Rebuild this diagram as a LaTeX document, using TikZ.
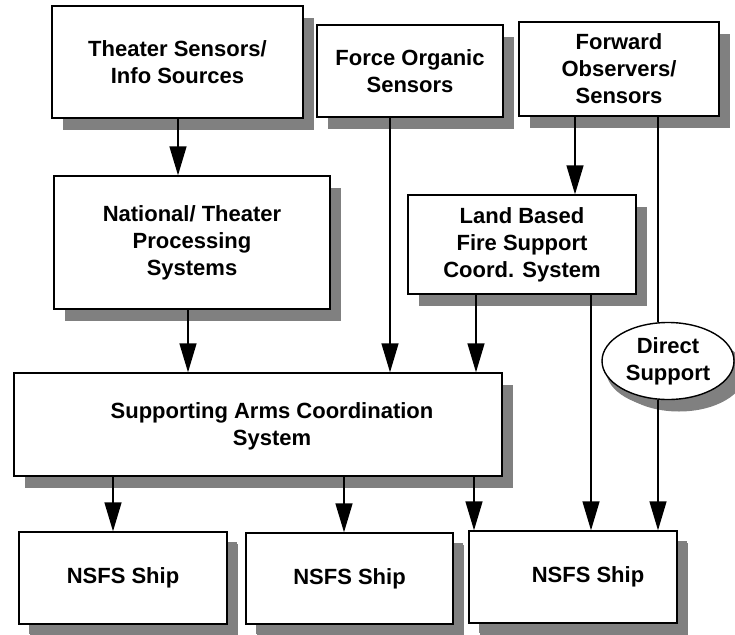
\documentclass[tikz,border=0pt]{standalone}
\usepackage{fontspec}
\setmainfont{Liberation Sans}
\usetikzlibrary{arrows.meta,shadows,shapes.geometric}
\begin{document}
\begin{tikzpicture}[x=1pt,y=-1pt,
  txt/.style={align=center, font=\bfseries\fontsize{22}{27}\selectfont},
  box/.style={txt, draw=black, line width=1.4pt, fill=white, inner sep=0pt,
    drop shadow={shadow xshift=11pt, shadow yshift=-12pt, fill=black!50, opacity=1}},
  shipbox/.style={box, minimum width=208pt, minimum height=92pt,
    drop shadow={shadow xshift=10pt, shadow yshift=-10pt, fill=black!50, opacity=1}},
  arr/.style={line width=1.4pt, -{Triangle[length=29pt,width=17pt]}},
  ln/.style={line width=1.4pt}]
\useasboundingbox (0,0) rectangle (735,634);

\node[box, minimum width=251pt, minimum height=112pt] (ts) at (177.5,62) {Theater Sensors/\\Info Sources};
\node[box, minimum width=186pt, minimum height=92pt] (fo) at (410,71) {Force Organic\\Sensors};
\node[box, minimum width=200pt, minimum height=94pt] (fw) at (619,69) {Forward\\Observers/\\Sensors};
\node[box, minimum width=276pt, minimum height=133pt] (nt) at (192,242.5) {National/ Theater\\Processing\\Systems};
\node[box, minimum width=228pt, minimum height=99pt] (lb) at (522,244.5) {Land Based\\Fire Support\\Coord. System};
\node[box, ellipse, minimum width=132pt, minimum height=77pt,
  drop shadow={shadow xshift=4pt, shadow yshift=-9pt, fill=black!50, opacity=1}] (ds) at (668,361) {Direct\\Support};
\node[box, minimum width=488pt, minimum height=103pt] (sa) at (258,424.5) {};
\node[txt] (satext) at (272,426) {Supporting Arms Coordination\\System};
\node[shipbox] (s1) at (123,578) {NSFS Ship};
\node[shipbox, minimum width=207pt, minimum height=91pt] (s2) at (349.5,578.5) {NSFS Ship};
\node[shipbox] (s3) at (573,577) {};
\node[txt] (s3text) at (588,577) {NSFS Ship};

\draw[arr] (178,0 |- ts.south) -- (178,0 |- nt.north);
\draw[arr] (188,0 |- nt.south) -- (188,0 |- sa.north);
\draw[arr] (390,0 |- fo.south) -- (390,0 |- sa.north);
\draw[arr] (575,0 |- fw.south) -- (575,0 |- lb.north);
\draw[ln]  (658,0 |- fw.south) -- (658,0 |- ds.north);
\draw[arr] (476,0 |- lb.south) -- (476,0 |- sa.north);
\draw[arr] (591,0 |- lb.south) -- (591,0 |- s3.north);
\draw[arr] (658,0 |- ds.south) -- (658,0 |- s3.north);
\draw[arr] (113,0 |- sa.south) -- (113,0 |- s1.north);
\draw[arr] (344,0 |- sa.south) -- (344,0 |- s2.north);
\draw[arr] (474,0 |- sa.south) -- (474,0 |- s3.north);
\end{tikzpicture}
\end{document}
